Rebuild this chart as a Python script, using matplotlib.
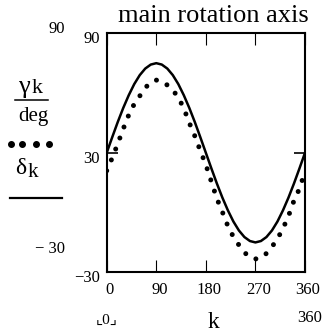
import matplotlib
matplotlib.use('Agg')
import matplotlib.pyplot as plt
import matplotlib.transforms as mtransforms
from matplotlib.lines import Line2D

plt.rcParams['font.family'] = ['Liberation Serif', 'DejaVu Sans']

# k in degrees, sampled every 10 deg
k = [0, 10, 20, 30, 40, 50, 60, 70, 80, 90, 100, 110, 120, 130, 140, 150, 160, 170, 180,
     190, 200, 210, 220, 230, 240, 250, 260, 270, 280, 290, 300, 310, 320, 330, 340, 350, 360]
# gamma_k / deg (dotted trace)
gamma = [21, 27.4, 34.5, 42, 49, 54.5, 58.5, 62.6, 65.5, 66.5, 66, 64, 61.5, 57.8, 52.3, 45, 38.4, 31, 24,
         15.5, 7, 0.3, -6.8, -12.2, -16.3, -20, -22.5, -23.3, -22.8, -20.5, -17.2, -13.2, -8, -1.8, 6, 12, 20.5]
# delta_k (solid trace)
delta = [30, 37.8, 45.4, 52.5, 58.9, 64.5, 69, 72.3, 74.3, 75, 74.3, 72.3, 69, 64.5, 58.9, 52.5, 45.4, 37.8, 30,
         22.2, 14.6, 7.5, 1.1, -4.5, -9, -12.3, -14.3, -15, -14.3, -12.3, -9, -4.5, 1.1, 7.5, 14.6, 22.2, 30]

xticks = [0, 90, 180, 270, 360]
yticks = [-30, 30, 90]
ytick_labels = ['\u221230', '30', '90']

W, H = 323, 333
fig = plt.figure(figsize=(W / 100, H / 100), dpi=100)
ax = fig.add_axes([106.7 / W, 1 - 272.3 / H, (305 - 106.7) / W, (272.3 - 33.3) / H])


def fx(px):
    return px / W


def fy(py):
    return 1 - py / H


ax.plot(k, delta, color='black', lw=1.8, solid_joinstyle='round')
ax.plot(k, gamma, color='black', lw=3.6, linestyle=(0, (0.001, 2.35)),
        dash_capstyle='round')

ax.set_xlim(0, 360)
ax.set_ylim(-30, 90)
for s in ax.spines.values():
    s.set_linewidth(1.5)

ax.set_xticks(xticks, labels=[str(v) for v in xticks])
ax.tick_params(axis='x', direction='in', length=8.6, width=0.8, top=True,
               labelsize=12, pad=7)
off = mtransforms.ScaledTranslation(3 / 100, 0, fig.dpi_scale_trans)
for lab in ax.get_xticklabels():
    lab.set_transform(lab.get_transform() + off)

ax.set_yticks(yticks, labels=ytick_labels)
ax.tick_params(axis='y', direction='in', length=8, width=1.2, right=True,
               labelsize=12, pad=5)
offy = mtransforms.ScaledTranslation(0, -4 / 100, fig.dpi_scale_trans)
for lab in ax.get_yticklabels():
    lab.set_transform(lab.get_transform() + offy)
ticks = ax.yaxis.get_major_ticks()
for i in (0, 2):
    ticks[i].tick1line.set_visible(False)
    ticks[i].tick2line.set_visible(False)

# title
fig.text(fx(213), fy(22), 'main rotation axis', ha='center', va='baseline', fontsize=19)

# outside y limits
fig.text(fx(65), fy(29), '90', ha='right', va='center', fontsize=12)
fig.text(fx(65), fy(249), '\u2212 30', ha='right', va='center', fontsize=12)

# left legend: gamma_k / deg, dots, delta_k, solid
fig.text(fx(23.5), fy(93), '\u03b3', ha='center', va='baseline', fontsize=19)
fig.text(fx(32), fy(93), 'k', ha='left', va='baseline', fontsize=16)
fig.add_artist(Line2D([fx(15), fx(48)], [fy(100), fy(100)], color='black', lw=1.1))
fig.text(fx(33), fy(121), 'deg', ha='center', va='baseline', fontsize=15)
fig.add_artist(Line2D([fx(11), fx(22.3), fx(35.7), fx(49.3)], [fy(144)] * 4,
                      ls='none', marker='o', ms=4, color='black'))
fig.text(fx(21), fy(174), '\u03b4', ha='center', va='baseline', fontsize=17)
fig.text(fx(28), fy(177), 'k', ha='left', va='baseline', fontsize=15)
fig.add_artist(Line2D([fx(10), fx(62)], [fy(198), fy(198)], color='black', lw=1.6))

# bottom row: x limits and variable
fig.text(fx(106.5), fy(320), '\u231e0\u231f', ha='center', va='center', fontsize=11)
fig.text(fx(213), fy(328), 'k', ha='center', va='baseline', fontsize=17)
fig.text(fx(310), fy(318), '360', ha='center', va='center', fontsize=12)

fig.savefig('out.png', dpi=100, facecolor='white')
